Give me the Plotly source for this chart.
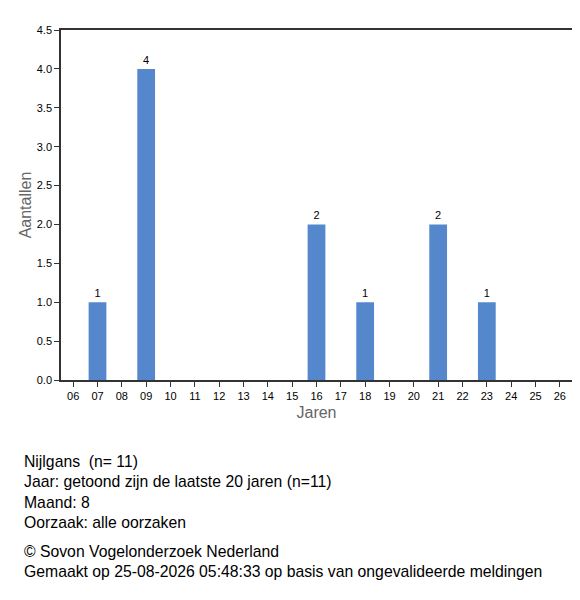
import plotly.graph_objects as go

# Nijlgans, maand 8, laatste 20 jaren
jaren = ["06", "07", "08", "09", "10", "11", "12", "13", "14", "15", "16",
         "17", "18", "19", "20", "21", "22", "23", "24", "25", "26"]
aantallen = [0, 1, 0, 4, 0, 0, 0, 0, 0, 0, 2, 0, 1, 0, 0, 2, 0, 1, 0, 0, 0]

y_ticks = [0, 0.5, 1.0, 1.5, 2.0, 2.5, 3.0, 3.5, 4.0, 4.5]

info_regels = [
    "Nijlgans  (n= 11)",
    "Jaar: getoond zijn de laatste 20 jaren (n=11)",
    "Maand: 8",
    "Oorzaak: alle oorzaken",
]
bron_regels = [
    "© Sovon Vogelonderzoek Nederland",
    "Gemaakt op 25-08-2026 05:48:33 op basis van ongevalideerde meldingen",
]

labels = [str(v) if v > 0 else "" for v in aantallen]

fig = go.Figure(
    go.Bar(
        x=jaren,
        y=aantallen,
        text=labels,
        textposition="outside",
        textfont=dict(size=11, color="#000"),
        marker=dict(color="#5587cc", line=dict(width=0)),
        cliponaxis=False,
    )
)

fig.update_xaxes(
    type="category",
    range=[-0.5, 20.5],
    showline=True,
    linecolor="#333",
    linewidth=1.5,
    mirror=True,
    ticks="outside",
    ticklen=5,
    tickcolor="#333",
    tickfont=dict(size=11, color="#000"),
    title=dict(text="Jaren", font=dict(size=16, color="#666"), standoff=6),
    showgrid=False,
)
fig.update_yaxes(
    range=[0, 4.5],
    tickvals=y_ticks,
    tickformat=".1f",
    showline=True,
    linecolor="#333",
    linewidth=1.5,
    ticks="outside",
    ticklen=5,
    tickcolor="#333",
    tickfont=dict(size=11, color="#000"),
    title=dict(text="Aantallen", font=dict(size=16, color="#666"), standoff=1),
    showgrid=False,
    zeroline=False,
)

fig.add_annotation(
    text="<br>".join(info_regels),
    xref="paper", yref="paper",
    x=-0.0763, y=-0.203,
    xanchor="left", yanchor="top",
    align="left", showarrow=False,
    font=dict(size=15.75, color="#000"),
)
fig.add_annotation(
    text="<br>".join(bron_regels),
    xref="paper", yref="paper",
    x=-0.0763, y=-0.46,
    xanchor="left", yanchor="top",
    align="left", showarrow=False,
    font=dict(size=15.75, color="#000"),
)

fig.update_layout(
    width=564,
    height=576,
    margin=dict(l=53, r=0, t=22, b=204),
    bargap=0.27,
    plot_bgcolor="white",
    paper_bgcolor="white",
    font=dict(family="Liberation Sans, Arial, sans-serif"),
    showlegend=False,
)

fig.write_html("out.html")
